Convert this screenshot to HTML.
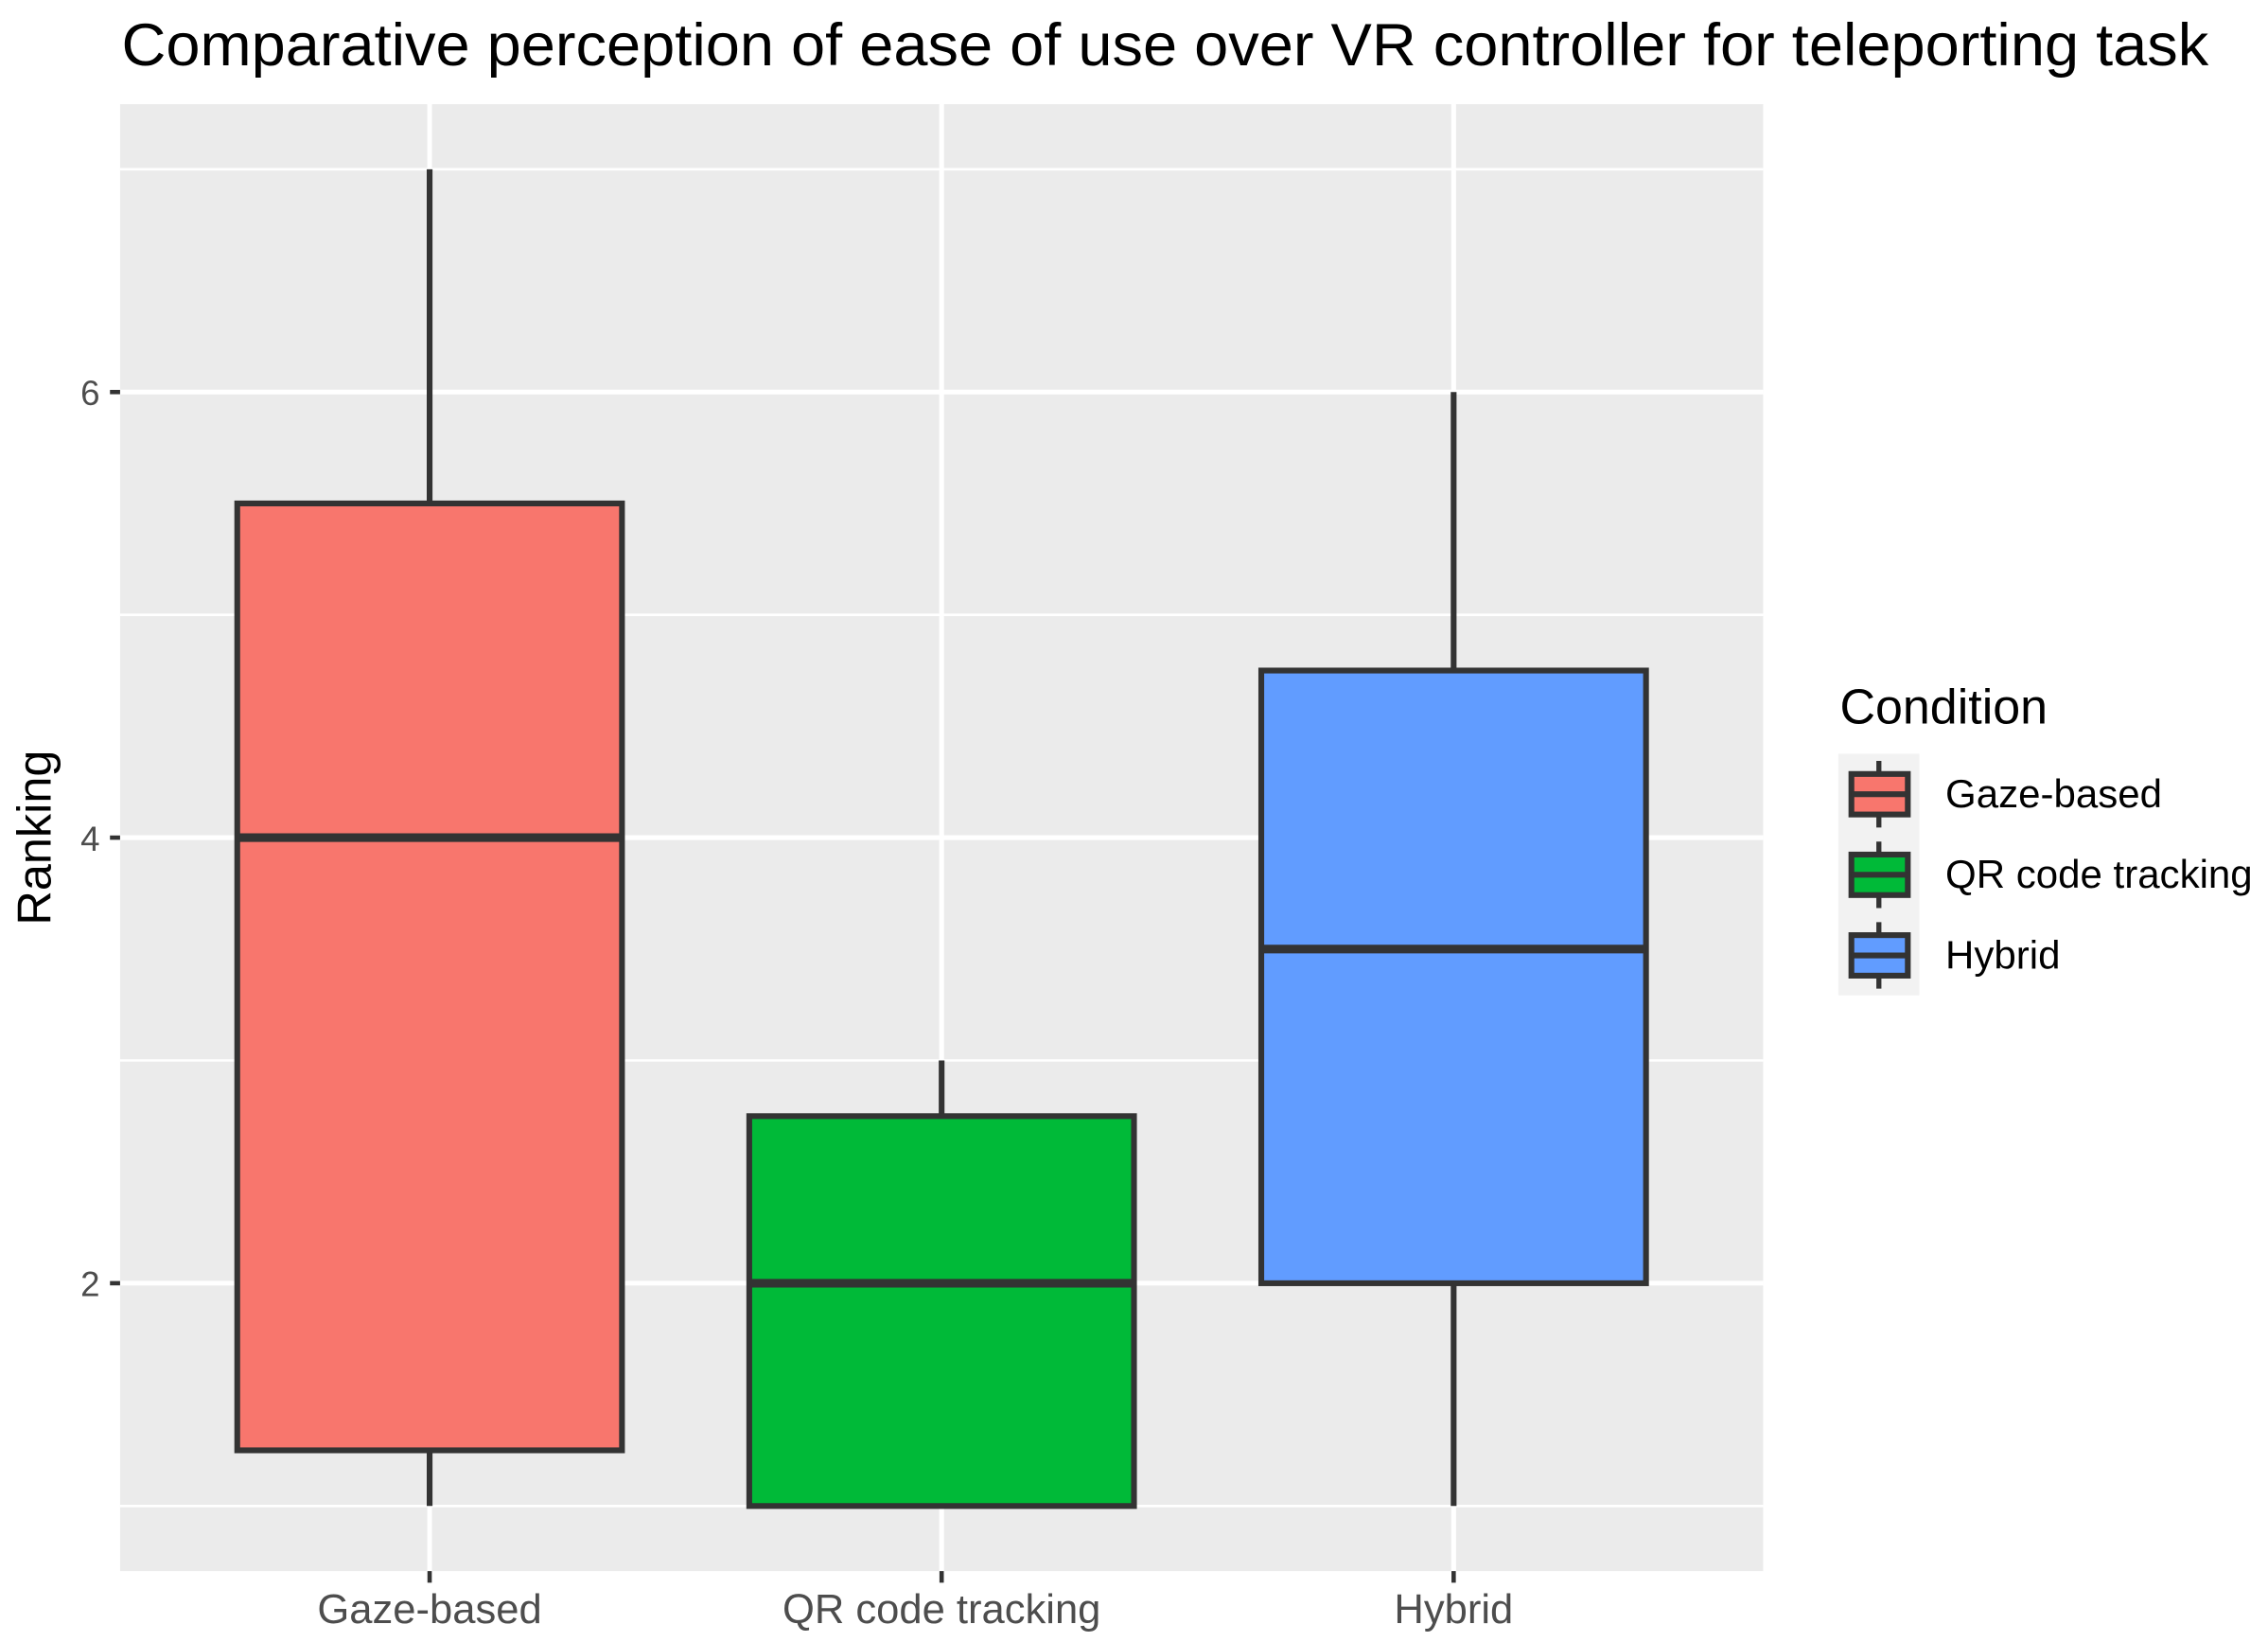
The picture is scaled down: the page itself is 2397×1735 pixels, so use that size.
<!DOCTYPE html>
<html><head><meta charset="utf-8"><style>html,body{margin:0;padding:0;background:#fff}svg{display:block}</style></head>
<body>
<svg id="chart" width="2397" height="1735" viewBox="0 0 1568 1135" xmlns="http://www.w3.org/2000/svg" font-family="'Liberation Sans', Arial, sans-serif">
<text x="84" y="45" font-size="41.5" fill="#000" textLength="1443" lengthAdjust="spacingAndGlyphs">Comparative perception of ease of use over VR controller for teleporting task</text>
<rect x="83" y="72" width="1136" height="1014" fill="#ebebeb"/>
<g id="grid"></g>
<g id="boxes"></g>
<g id="axes"></g>
<text transform="translate(35,579) rotate(-90)" text-anchor="middle" font-size="33" fill="#000">Ranking</text>
<g>
<text x="1272" y="500" font-size="34" fill="#000">Condition</text>
<g id="legend"></g>
</g>
</svg>
<script>
const categories = ["Gaze-based", "QR code tracking", "Hybrid"];
const mins = [1, 1, 1];
const q1s = [1.25, 1, 2];
const medians = [4, 2, 3.5];
const q3s = [5.5, 2.75, 4.75];
const maxs = [7, 3, 6];
const colors = ["#f8766d", "#00ba38", "#619cff"];
const majorTicks = [2, 4, 6];
const minorTicks = [1, 3, 5, 7];

const NS = "http://www.w3.org/2000/svg";
const yScale = v => 1041 - (v - 1) * 154;
const xScale = i => 297 + i * 354;
const halfW = 133;
function mk(tag, attrs, parent) {
  const e = document.createElementNS(NS, tag);
  for (const k in attrs) e.setAttribute(k, attrs[k]);
  parent.appendChild(e);
  return e;
}
const grid = document.getElementById('grid');
minorTicks.forEach(t => {
  const l = mk('line', {x1: 83, x2: 1219, y1: yScale(t), y2: yScale(t), stroke: '#fff', 'stroke-width': 1.7}, grid);
  
  
});
majorTicks.forEach(t => {
  const l = mk('line', {x1: 83, x2: 1219, y1: yScale(t), y2: yScale(t), stroke: '#fff', 'stroke-width': 3.3}, grid);
  
  
});
categories.forEach((c, i) => {
  const l = mk('line', {x1: xScale(i), x2: xScale(i), y1: 72, y2: 1086, stroke: '#fff', 'stroke-width': 3.3}, grid);
  
  
});
const boxes = document.getElementById('boxes');
categories.forEach((c, i) => {
  const g = mk('g', {}, boxes);
  
  
  const x = xScale(i);
  mk('line', {x1: x, x2: x, y1: yScale(maxs[i]), y2: yScale(q3s[i]), stroke: '#333', 'stroke-width': 4}, g);
  mk('line', {x1: x, x2: x, y1: yScale(q1s[i]), y2: yScale(mins[i]), stroke: '#333', 'stroke-width': 4}, g);
  mk('rect', {x: x - halfW, y: yScale(q3s[i]), width: 2 * halfW, height: yScale(q1s[i]) - yScale(q3s[i]), fill: colors[i], stroke: '#333', 'stroke-width': 4}, g);
  mk('line', {x1: x - halfW, x2: x + halfW, y1: yScale(medians[i]), y2: yScale(medians[i]), stroke: '#333', 'stroke-width': 6}, g);
});
const axes = document.getElementById('axes');
majorTicks.forEach(t => {
  mk('line', {x1: 76, x2: 83, y1: yScale(t), y2: yScale(t), stroke: '#333', 'stroke-width': 3}, axes);
  const tx = mk('text', {x: 69, y: yScale(t) + 9, 'text-anchor': 'end', 'font-size': 24, fill: '#4d4d4d'}, axes);
  tx.textContent = t;
  
  
});
categories.forEach((c, i) => {
  mk('line', {x1: xScale(i), x2: xScale(i), y1: 1086, y2: 1094, stroke: '#333', 'stroke-width': 3}, axes);
  const tx = mk('text', {x: xScale(i), y: 1122, 'text-anchor': 'middle', 'font-size': 28.5, fill: '#4d4d4d'}, axes);
  tx.textContent = c;
  
  
});
const legend = document.getElementById('legend');
mk('rect', {x: 1271, y: 521, width: 56, height: 167, fill: '#f2f2f2'}, legend);
categories.forEach((c, i) => {
  const g = mk('g', {}, legend);
  
  
  const cy = 549 + i * 55.7;
  mk('line', {x1: 1299, x2: 1299, y1: cy - 23, y2: cy + 23, stroke: '#333', 'stroke-width': 3.5}, g);
  mk('rect', {x: 1280, y: cy - 14, width: 39, height: 28, fill: colors[i], stroke: '#333', 'stroke-width': 4}, g);
  mk('line', {x1: 1280, x2: 1319, y1: cy, y2: cy, stroke: '#333', 'stroke-width': 4}, g);
  const tx = mk('text', {x: 1345, y: cy + 9, 'font-size': 27.5, fill: '#000'}, g);
  tx.textContent = c;
});
</script>
</body></html>
